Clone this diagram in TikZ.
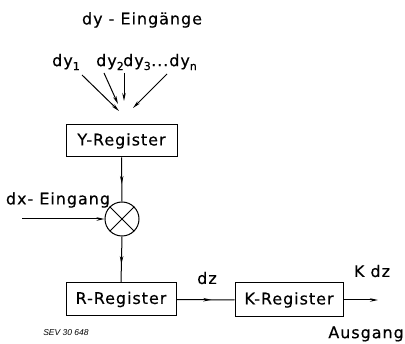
\documentclass[tikz,border=0pt]{standalone}
\usepackage{fontspec}
\setmainfont{DejaVu Sans}[LetterSpace=6,FakeBold=0.4]
\newfontfamily\sevfont{Liberation Sans}
\usetikzlibrary{arrows.meta,decorations.markings}
\newcommand\dsub[1]{\raisebox{-0.45ex}{\fontsize{11}{11}\selectfont #1}}
\tikzset{
  lbl/.style={inner sep=0pt, font=\fontsize{16}{18}\selectfont},
  reg/.style={draw, line width=1pt, inner sep=0pt, font=\fontsize{16}{18}\selectfont},
  con/.style={line width=1pt},
  tip/.style={con, -{Stealth[length=8pt,width=3.5pt]}},
  midarrow/.style={con, postaction={decorate}, decoration={markings,
     mark=at position 0.6 with {\arrow{Stealth[length=8pt,width=3.5pt]}}}}
}
\begin{document}
\begin{tikzpicture}[x=1pt,y=-1pt]
\useasboundingbox (0,0) rectangle (405,344);
% title and inputs
\node[lbl] (title) at (142,20) {dy - Eingänge};
\node[lbl] (dy1) at (66,62) {dy\dsub{1}};
\node[lbl] (dy2) at (110,62) {dy\dsub{2}};
\node[lbl] (dy3) at (137,62) {dy\dsub{3}};
\node[lbl] (dyn) at (174,62) {...dy\dsub{n}};
\coordinate (s1) at (82,75);   \coordinate (e1) at (119,111);
\coordinate (s2) at (104,73);  \coordinate (e2) at (118,104);
\coordinate (s3) at (124,73);  \coordinate (e3) at (124,101);
\coordinate (s4) at (167,74);  \coordinate (e4) at (133,108);
\draw[tip] (s1) -- (e1);
\draw[tip] (s2) -- (e2);
\draw[tip] (s3) -- (e3);
\draw[tip] (s4) -- (e4);
% registers
\node[reg, minimum width=111pt, minimum height=32pt] (Y) at (121.5,141) {Y-Register};
\node[draw, circle, line width=1pt, minimum size=34pt, inner sep=0pt] (M) at (122,219) {};
\draw[con] (M.north west) -- (M.south east);
\draw[con] (M.north east) -- (M.south west);
\node[reg, minimum width=110pt, minimum height=33pt] (R) at (121,299.5) {R-Register};
\node[reg, minimum width=108pt, minimum height=34pt] (K) at (289,300) {K-Register};
% dx input
\node[lbl] (dx) at (58,200) {dx- Eingang};
\coordinate (dxs) at (22,219);
\draw[tip] (dxs) -- (M.west);
% connectors
\draw[midarrow] (Y.south) -- (M.north);
\draw[midarrow] (M.south) -- (R.north);
\draw[midarrow] (R.east) -- (K.west);
\coordinate (out) at (378,300);
\draw[tip] (K.east) -- (out);
% labels
\node[lbl] (dz) at (207,278) {dz};
\node[lbl] (kdz) at (372,271) {K dz};
\node[lbl, anchor=east] (aus) at (404,334) {Ausgang};
\node[inner sep=0pt, font=\sevfont\fontsize{8.5}{9}\selectfont\itshape] (sev) at (66,333) {SEV 30 648};
\end{tikzpicture}
\end{document}
